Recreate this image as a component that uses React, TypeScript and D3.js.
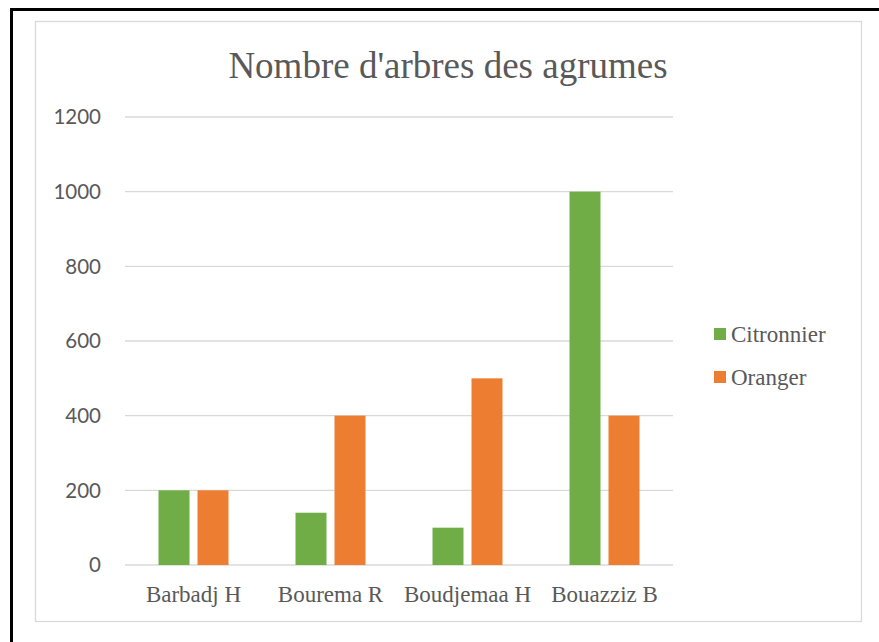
import React, { useEffect, useRef } from 'react';
import * as d3 from 'd3';

const categories = ['Barbadj H', 'Bourema R', 'Boudjemaa H', 'Bouazziz B'];
const citronnier = [200, 140, 100, 1000];
const oranger = [200, 400, 500, 400];
const seriesNames = ['Citronnier', 'Oranger'];
const colors = ['#70ad47', '#ed7d31'];
const yTicks = [0, 200, 400, 600, 800, 1000, 1200];

const App = () => {
  const chartRef = useRef<SVGSVGElement>(null);

  useEffect(() => {
    const svg = d3.select(chartRef.current);
    svg.selectAll('*').remove();

    // frame around the picture
    svg.append('rect')
      .attr('x', 11.5).attr('y', 9.5)
      .attr('width', 900).attr('height', 700)
      .attr('fill', 'white')
      .attr('stroke', 'black').attr('stroke-width', 3);

    // chart area border
    svg.append('rect')
      .attr('x', 35.5).attr('y', 21.5)
      .attr('width', 826).attr('height', 600)
      .attr('fill', 'white')
      .attr('stroke', '#d9d9d9').attr('stroke-width', 1.3);

    const left = 125, right = 673, top = 117, bottom = 565;

    const x = d3.scaleBand().domain(categories).range([left, right]);
    const y = d3.scaleLinear().domain([0, 1200]).range([bottom, top]);
    // two bars of 31px with an 8px gap
    const inner = d3.scaleBand().domain(seriesNames).range([0, 70]).paddingInner(8 / 39);

    // gridlines
    svg.append('g')
      .selectAll('line')
      .data(yTicks)
      .enter()
      .append('line')
      .attr('x1', left).attr('x2', right)
      .attr('y1', (d) => y(d)).attr('y2', (d) => y(d))
      .attr('stroke', '#d9d9d9').attr('stroke-width', 1.3);

    // y labels
    svg.append('g')
      .selectAll('text')
      .data(yTicks)
      .enter()
      .append('text')
      .attr('x', 101)
      .attr('y', (d) => y(d))
      .attr('dy', '0.35em')
      .attr('text-anchor', 'end')
      .attr('font-family', 'Lato, "Open Sans", sans-serif')
      .attr('font-size', '20.5px')
      .attr('fill', '#595959')
      .text((d) => d);

    // bars
    const series = [citronnier, oranger];
    series.forEach((vals, si) => {
      svg.append('g')
        .selectAll('rect')
        .data(vals)
        .enter()
        .append('rect')
        .attr('x', (d, i) => (x(categories[i]) as number) + (x.bandwidth() - 70) / 2 + (inner(seriesNames[si]) as number))
        .attr('y', (d) => y(d))
        .attr('width', inner.bandwidth())
        .attr('height', (d) => y(0) - y(d))
        .attr('fill', colors[si]);
    });

    // x labels
    svg.append('g')
      .selectAll('text')
      .data(categories)
      .enter()
      .append('text')
      .attr('x', (d) => (x(d) as number) + x.bandwidth() / 2)
      .attr('y', 602)
      .attr('text-anchor', 'middle')
      .attr('font-family', '"Liberation Serif", "Times New Roman", serif')
      .attr('font-size', '23px')
      .attr('fill', '#595959')
      .text((d) => d);

    // title
    svg.append('text')
      .attr('x', 448).attr('y', 78)
      .attr('text-anchor', 'middle')
      .attr('font-family', '"Liberation Serif", "Times New Roman", serif')
      .attr('font-size', '37px')
      .attr('fill', '#595959')
      .text("Nombre d'arbres des agrumes");

    // legend
    const legend = svg.append('g')
      .selectAll('g')
      .data(seriesNames)
      .enter()
      .append('g')
      .attr('transform', (d, i) => `translate(714, ${328 + i * 43})`);
    legend.append('rect')
      .attr('width', 12).attr('height', 12)
      .attr('fill', (d, i) => colors[i]);
    legend.append('text')
      .attr('x', 17).attr('y', 14)
      .attr('font-family', '"Liberation Serif", "Times New Roman", serif')
      .attr('font-size', '23px')
      .attr('fill', '#595959')
      .text((d) => d);
  }, []);

  return (
    <svg ref={chartRef} width={879} height={642}
      style={{ position: 'absolute', left: 0, top: 0, display: 'block', background: 'white' }} />
  );
};

export default App;
